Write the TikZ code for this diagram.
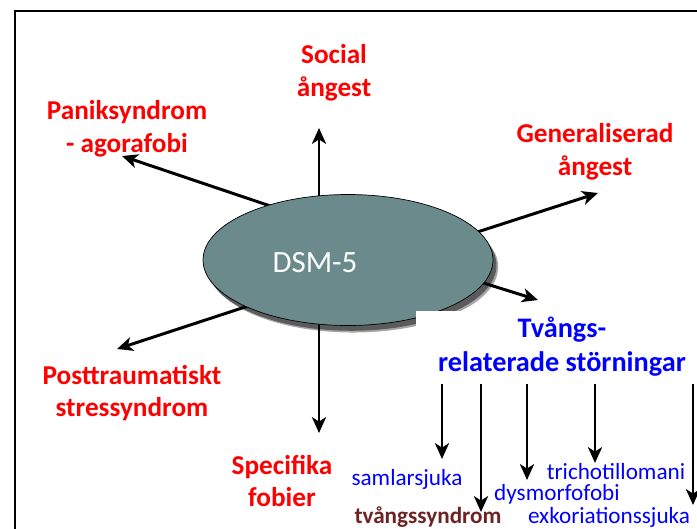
\documentclass[tikz,border=0pt]{standalone}
\usepackage{fontspec}
\setmainfont{Carlito}
\usetikzlibrary{arrows.meta,positioning,shadows,shapes.geometric}
\definecolor{dsmfill}{RGB}{106,138,140}
\definecolor{ocdbrown}{RGB}{110,35,35}
\tikzset{
  arr/.style={line width=1.7pt,-{Stealth[length=9pt,width=8pt,inset=2.5pt]}},
  redlabel/.style={text=red,font=\fontsize{15.5}{18.7}\selectfont\bfseries,align=center,inner sep=0pt},
  sublabel/.style={text=blue,font=\fontsize{13.2}{15}\selectfont,inner sep=0pt,anchor=base}
}

\begin{document}
\begin{tikzpicture}[x=0.02cm,y=-0.02cm]
  \useasboundingbox (0,0) rectangle (697,528);

  % frame
  \draw[line width=1.1pt] (15,540) |- (720,11);

  % labels round DSM-5
  \node[redlabel] (social) at (334,73) {Social\\ångest};
  \node[redlabel] (panik) at (127,129) {Paniksyndrom\\- agorafobi};
  \node[redlabel] (gad) at (595,152) {Generaliserad\\ångest};
  \node[redlabel] (ptsd) at (132,393) {Posttraumatiskt\\stressyndrom};
  \node[redlabel] (fobi) at (282,481) {Specifika\\fobier};

  \coordinate (o-up) at (319,240);
  \coordinate (o-down) at (319,280);
  \coordinate (o-ul) at (300,216);
  \coordinate (o-ll) at (300,289);
  \coordinate (o-r) at (400,257);
  \coordinate (t-up) at (319,128);
  \coordinate (t-down) at (319,433);
  \coordinate (t-ul) at (122,156);
  \coordinate (t-ll) at (117,349);
  \coordinate (t-ur) at (598,193);
  \coordinate (t-lr) at (538,300);

  \draw[arr] (o-up) -- (t-up);
  \draw[arr] (o-down) -- (t-down);
  \draw[arr] (o-ul) -- (t-ul);
  \draw[arr] (o-ll) -- (t-ll);
  \draw[arr] (o-r) -- (t-ur);
  \draw[arr] (o-r) -- (t-lr);

  \node[ellipse,draw=black,thin,fill=dsmfill,minimum width=5.8cm,minimum height=2.62cm,
        drop shadow={shadow xshift=3pt,shadow yshift=-4pt,fill=black,opacity=0.35},
        drop shadow={shadow xshift=2pt,shadow yshift=-3pt,fill=black,opacity=0.45}] (dsm) at (348,260) {};
  \node[text=white,font=\fontsize{17.6}{20}\selectfont,inner sep=0pt] (dsmtext) at (315,263) {DSM-5};

  % Tvångsrelaterade
  \node[fill=white,minimum width=5.86cm,minimum height=1.46cm,inner sep=0pt,align=center,
        text=blue,font=\fontsize{16.1}{19.3}\selectfont\bfseries] (tvang) at (562,347)
        {Tvångs-\\relaterade störningar};

  \node[sublabel] (samlar) at (407,485) {samlarsjuka};
  \node[sublabel,text=ocdbrown,font=\fontsize{13.2}{15}\selectfont\bfseries] (ocd) at (428,523) {tvångssyndrom};
  \node[sublabel] (dysmorf) at (557,500) {dysmorfofobi};
  \node[sublabel] (tricho) at (616,479) {trichotillomani};
  \node[sublabel] (exkor) at (609,523) {exkoriationssjuka};

  \coordinate (t-samlar) at (442,459);
  \coordinate (t-ocd) at (481,512);
  \coordinate (t-dysmorf) at (527,480);
  \coordinate (t-tricho) at (595,463);
  \coordinate (t-exkor) at (693,505);

  \foreach \t in {samlar,ocd,dysmorf,tricho,exkor}
    \draw[arr] (tvang.south -| t-\t) -- (t-\t);
\end{tikzpicture}
\end{document}
